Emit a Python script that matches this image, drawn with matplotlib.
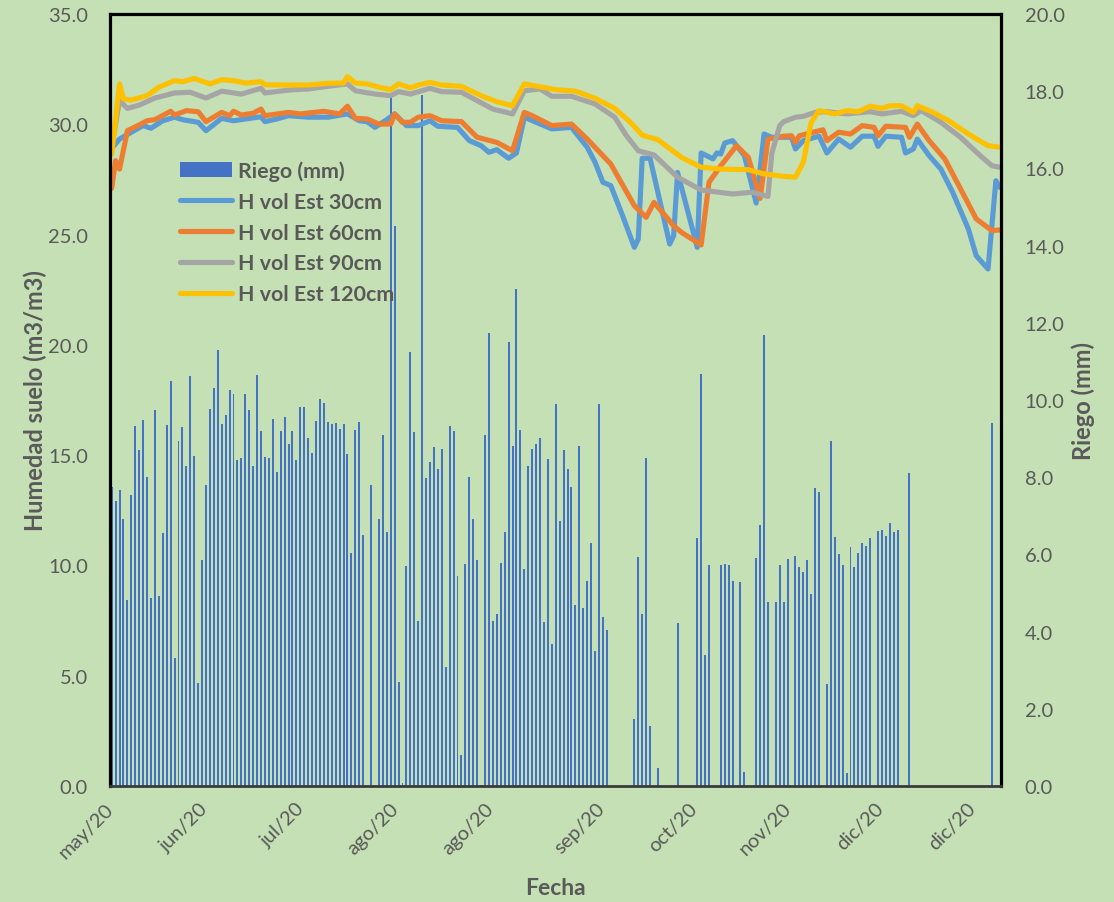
import numpy as np
import matplotlib
matplotlib.use("Agg")
import matplotlib.pyplot as plt
from matplotlib.ticker import FormatStrFormatter

plt.rcParams['font.family'] = ['Lato', 'DejaVu Sans']

# ---------------- data ----------------
# day index 0 = first record (late May 2020), daily records
tick_labels = ["may/20", "jun/20", "jul/20", "ago/20", "ago/20",
               "sep/20", "oct/20", "nov/20", "dic/20", "dic/20"]
tick_days = [-0.18, 23.7, 48.3, 72.4, 96.6, 124.8, 148.4, 172.1, 195.7, 219.2]

# Riego (mm), one value per day (day 0 .. 226)
riego = [
    7.75, 7.38, 7.66, 6.92, 4.81, 7.53, 9.33, 8.70, 9.47, 8.00,
    4.87, 9.74, 4.92, 6.55, 9.36, 10.49, 3.31, 8.94, 9.31, 8.30,
    10.63, 8.54, 2.67, 5.85, 7.79, 9.77, 10.32, 11.29, 9.38, 9.61,
    10.25, 10.15, 8.45, 8.49, 10.16, 9.75, 8.29, 10.65, 9.20, 8.53,
    8.50, 9.51, 8.13, 9.19, 9.55, 8.86, 9.20, 8.44, 9.81, 9.82,
    9.02, 8.62, 9.46, 10.03, 9.93, 9.43, 9.38, 9.40, 9.25, 9.38,
    8.60, 6.03, 9.22, 9.43, 6.49, 0, 7.80, 0, 6.91, 9.10,
    6.58, 17.9, 14.52, 2.69, 0.08, 5.69, 11.25, 9.16, 4.27, 17.9,
    7.97, 8.39, 8.77, 8.22, 8.73, 3.07, 9.33, 9.20, 5.43, 0.80,
    5.74, 8.01, 6.91, 5.85, 0.03, 9.09, 11.73, 4.27, 4.45, 5.79,
    6.57, 11.50, 8.82, 12.87, 9.21, 5.63, 8.28, 8.72, 8.85, 9.02,
    4.25, 8.47, 3.68, 9.89, 6.87, 8.70, 8.22, 7.74, 4.68, 8.81,
    4.60, 5.31, 6.29, 3.50, 9.89, 4.37, 4.04, 0, 0, 0,
    0, 0, 0, 1.73, 5.94, 4.45, 8.51, 1.56, 0, 0.47,
    0, 0, 0, 0, 4.21, 0, 0, 0, 0, 6.42,
    10.67, 3.39, 5.73, 0, 0, 5.73, 5.75, 5.73, 5.30, 0,
    5.28, 0.37, 0, 0, 5.90, 6.75, 11.68, 4.77, 0, 4.77,
    5.73, 4.77, 5.88, 0, 5.95, 5.67, 5.54, 5.85, 4.97, 7.71,
    7.62, 0, 2.64, 8.95, 6.45, 6.00, 5.73, 0.34, 6.18, 5.67,
    6.04, 6.29, 6.21, 6.42, 0, 6.61, 6.63, 6.47, 6.81, 6.58,
    6.63, 0, 0, 8.11, 0, 0, 0, 0, 0, 0,
    0, 0, 0, 0, 0, 0, 0, 0, 0, 0,
    0, 0, 0, 0, 9.40, 0, 0,
]
riego_days = list(range(len(riego)))

# H vol Est 30cm
d30 = [0, 2, 5, 8, 10, 13, 16, 18, 22, 24, 28, 31, 34, 38, 39, 42, 45, 50, 55, 60,
       63, 65, 67, 70, 72, 75, 78, 81, 83, 88, 91, 94, 96, 98, 101, 103, 105, 108, 112, 117,
       121, 123, 125, 127, 130, 133, 134, 135, 137, 142, 143, 144, 149, 150, 153, 154, 155, 156, 158, 161,
       164, 166, 168, 173, 174, 176, 180, 182, 185, 188, 191, 194, 195, 197, 201, 202, 204, 205, 208, 211,
       214, 218, 220, 223, 225, 226]
h30 = [28.9, 29.33, 29.64, 29.94, 29.82, 30.16, 30.32, 30.21, 30.09, 29.71,
       30.27, 30.16, 30.24, 30.34, 30.12, 30.24, 30.39, 30.32, 30.32, 30.47,
       30.16, 30.12, 29.86, 30.21, 30.47, 29.94, 29.94, 30.16, 29.91, 29.86,
       29.26, 29.03, 28.73, 28.85, 28.46, 28.70, 30.32, 30.09, 29.79, 29.86,
       28.96, 28.28, 27.37, 27.22, 25.86, 24.42, 24.80, 28.46, 28.46, 24.57,
       24.95, 27.82, 24.42, 28.70, 28.43, 28.70, 28.65, 29.15, 29.26, 28.58,
       26.43, 29.56, 29.41, 29.41, 28.88, 29.26, 29.46, 28.70, 29.33, 28.96,
       29.46, 29.46, 29.00, 29.46, 29.41, 28.70, 28.88, 29.33, 28.58, 27.97,
       26.92, 25.25, 24.04, 23.44, 27.44, 27.14]

# H vol Est 60cm
d60 = [0, 1, 2, 4, 7, 9, 11, 15, 16, 19, 22, 24, 28, 30, 31, 33, 36, 38, 39, 45,
       48, 54, 58, 60, 62, 65, 68, 71, 72, 74, 76, 78, 81, 84, 89, 93, 98, 102, 105, 107,
       112, 117, 121, 127, 133, 136, 138, 143, 145, 150, 152, 155, 159, 162, 165, 167, 171, 173, 174, 175,
       179, 181, 182, 185, 188, 191, 194, 195, 197, 202, 203, 205, 208, 212, 216, 220, 224, 226]
h60 = [27.10, 28.35, 27.97, 29.71, 29.97, 30.16, 30.21, 30.59, 30.42, 30.62,
       30.57, 30.12, 30.54, 30.39, 30.59, 30.42, 30.50, 30.69, 30.39, 30.54,
       30.47, 30.59, 30.47, 30.82, 30.27, 30.24, 30.01, 30.01, 30.47, 30.09,
       30.09, 30.32, 30.39, 30.16, 30.12, 29.41, 29.18, 28.80, 30.54, 30.39,
       29.94, 30.01, 29.33, 28.20, 26.31, 25.78, 26.46, 25.40, 25.10, 24.53,
       27.37, 28.12, 29.03, 28.50, 26.64, 29.33, 29.46, 29.48, 29.18, 29.48,
       29.66, 29.75, 29.26, 29.64, 29.56, 29.94, 29.86, 29.48, 29.91, 29.86,
       29.41, 30.01, 29.26, 28.43, 27.07, 25.71, 25.18, 25.21]

# H vol Est 90cm
d90 = [0, 2, 4, 7, 11, 16, 20, 24, 28, 33, 38, 39, 45, 50, 55, 60, 62, 67, 71, 73,
       76, 81, 84, 89, 93, 97, 102, 105, 109, 112, 117, 123, 128, 131, 134, 138, 144, 150, 158, 163,
       167, 168, 170, 171, 174, 176, 179, 182, 187, 193, 196, 201, 204, 206, 211, 216, 221, 224, 226]
h90 = [29.0, 31.07, 30.72, 30.87, 31.19, 31.42, 31.45, 31.19, 31.50, 31.37,
       31.63, 31.42, 31.55, 31.60, 31.72, 31.83, 31.52, 31.37, 31.30, 31.48,
       31.37, 31.63, 31.48, 31.45, 31.07, 30.69, 30.47, 31.52, 31.60, 31.27,
       31.27, 30.92, 30.32, 29.48, 28.80, 28.61, 27.60, 27.02, 26.84, 26.92,
       26.73, 28.7, 29.94, 30.12, 30.32, 30.36, 30.54, 30.57, 30.47, 30.57,
       30.47, 30.59, 30.39, 30.62, 30.09, 29.41, 28.58, 28.12, 28.05]

# H vol Est 120cm
d120 = [0, 2, 3, 5, 9, 12, 16, 18, 21, 25, 28, 31, 34, 38, 39, 45, 50, 55, 59, 60,
        62, 65, 68, 71, 73, 76, 78, 81, 84, 89, 94, 98, 102, 105, 109, 113, 118, 123, 128, 132,
        135, 139, 145, 150, 155, 162, 166, 171, 174, 176, 178, 180, 184, 187, 190, 193, 196, 198, 201, 204,
        205, 209, 213, 218, 223, 226]
h120 = [28.65, 31.83, 31.15, 31.10, 31.30, 31.68, 31.98, 31.93, 32.08, 31.83,
        32.02, 31.98, 31.87, 31.93, 31.79, 31.78, 31.78, 31.86, 31.87, 32.16,
        31.87, 31.83, 31.68, 31.57, 31.83, 31.65, 31.78, 31.90, 31.78, 31.72,
        31.30, 31.02, 30.84, 31.83, 31.70, 31.57, 31.50, 31.18, 30.72, 30.09,
        29.51, 29.30, 28.50, 28.05, 27.97, 27.94, 27.75, 27.64, 27.60, 28.28,
        30.09, 30.62, 30.47, 30.62, 30.57, 30.82, 30.72, 30.84, 30.84, 30.54,
        30.84, 30.54, 30.16, 29.56, 29.03, 28.96]

# ---------------- style ----------------
BG = '#C5E0B4'
TXT = '#595959'
C_BAR = '#4472C4'
C30, C60, C90, C120 = '#5B9BD5', '#ED7D31', '#A5A5A5', '#FFC000'
LW = 3.7

fig = plt.figure(figsize=(11.14, 9.03), dpi=100, facecolor=BG)
ax = fig.add_axes([110 / 1114, 1 - 787 / 903, 891 / 1114, 772 / 903])
ax.set_facecolor(BG)
ax2 = ax.twinx()

# bars on secondary (right) axis, drawn beneath the lines
b = ax2.bar(riego_days, riego, width=0.5, color=C_BAR, linewidth=0, zorder=1)
ax.set_zorder(3)
ax.patch.set_visible(False)
ax2.set_zorder(1)
ax2.patch.set_visible(True)
ax2.patch.set_facecolor(BG)

kw = dict(linewidth=LW, solid_joinstyle='round', solid_capstyle='round')
l30, = ax.plot(d30, h30, color=C30, **kw)
l60, = ax.plot(d60, h60, color=C60, **kw)
l90, = ax.plot(d90, h90, color=C90, **kw)
l120, = ax.plot(d120, h120, color=C120, **kw)

ax.set_xlim(-0.43, 226.3)
ax.set_ylim(0, 35)
ax2.set_ylim(0, 20)
ax.set_yticks(np.arange(0, 35.01, 5))
ax2.set_yticks(np.arange(0, 20.01, 2))
ax.yaxis.set_major_formatter(FormatStrFormatter('%.1f'))
ax2.yaxis.set_major_formatter(FormatStrFormatter('%.1f'))

ax.set_xticks(tick_days)
ax.set_xticklabels(tick_labels, rotation=45, ha='right', va='center',
                   rotation_mode='anchor')

ax.tick_params(axis='y', length=0, pad=16, labelsize=14.5, labelcolor=TXT)
ax2.tick_params(axis='y', length=0, pad=17, labelsize=14.5, labelcolor=TXT)
ax.tick_params(axis='x', length=0, pad=14, labelsize=14.5, labelcolor=TXT)

for s in ['left', 'top', 'right']:
    ax.spines[s].set_color('black')
    ax.spines[s].set_linewidth(2.3)
ax.spines['bottom'].set_color('#3a3a3a')
ax.spines['bottom'].set_linewidth(2.0)
for s in ax2.spines.values():
    s.set_visible(False)

lab = dict(fontsize=17, fontweight='bold', color=TXT)
ax.set_ylabel('Humedad suelo (m3/m3)', **lab)
ax.yaxis.set_label_coords(-0.084, 0.5)
ax.yaxis.label.set_va('center')
ax2.set_ylabel('Riego (mm)', **lab)
ax2.yaxis.set_label_coords(1.092, 0.5)
ax2.yaxis.label.set_va('center')
ax.set_xlabel('Fecha', **dict(lab, fontsize=16.5))
ax.xaxis.set_label_coords(0.5, -0.131)
ax.xaxis.label.set_va('center')

leg = ax.legend([b, l30, l60, l90, l120],
                ['Riego (mm)', 'H vol Est 30cm', 'H vol Est 60cm',
                 'H vol Est 90cm', 'H vol Est 120cm'],
                loc='upper left', bbox_to_anchor=(0.0786, 0.810),
                frameon=False, prop={'weight': 'bold', 'size': 15.4},
                labelcolor=TXT, handlelength=2.45, handletextpad=0.25,
                labelspacing=0.5, borderpad=0, borderaxespad=0)

fig.savefig('out.png', dpi=100, facecolor=BG)
